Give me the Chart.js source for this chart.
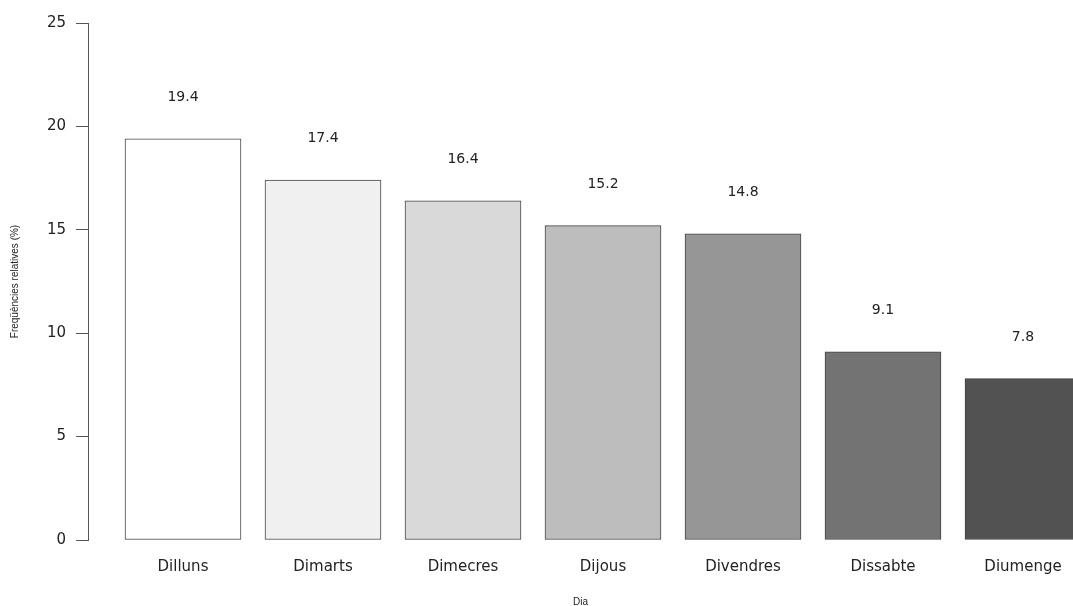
<!DOCTYPE html>
<html>
<head>
<meta charset="utf-8">
<script src="https://cdn.jsdelivr.net/npm/chart.js@4/dist/chart.umd.min.js"></script>
<style>
html,body{margin:0;padding:0;background:#fff;overflow:hidden;}
#wrap{width:1073px;height:606px;}
</style>
</head>
<body>
<div id="wrap"><canvas id="c" width="1073" height="606"></canvas></div>
<script>
const days = ["Dilluns","Dimarts","Dimecres","Dijous","Divendres","Dissabte","Diumenge"];
const values = [19.4, 17.4, 16.4, 15.2, 14.8, 9.1, 7.8];
const barColors = ["#ffffff","#f0f0f0","#d9d9d9","#bdbdbd","#969696","#737373","#525252"];
const yTicks = [0, 5, 10, 15, 20, 25];
const labelOffset = 2;

const FONT = "'DejaVu Sans', Verdana, sans-serif";
const TFONT = "'Liberation Sans', Arial, Helvetica, sans-serif";
const TEXT = "#222";
const AXIS = "#555";

const valueLabels = {
  id: 'valueLabels',
  afterDatasetsDraw(chart) {
    const ctx = chart.ctx, xs = chart.scales.x, ys = chart.scales.y;
    ctx.save();
    ctx.font = "14px " + FONT;
    ctx.fillStyle = TEXT;
    ctx.textAlign = 'center';
    ctx.textBaseline = 'middle';
    values.forEach((v, i) => {
      ctx.fillText(v.toFixed(1), xs.getPixelForValue(i), ys.getPixelForValue(v + labelOffset));
    });
    ctx.restore();
  }
};

new Chart(document.getElementById('c'), {
  type: 'bar',
  data: {
    datasets: [{
      data: values.map((v, i) => ({x: i, y: v})),
      backgroundColor: barColors,
      borderColor: "#444",
      borderWidth: 1,
      borderSkipped: false,
      barThickness: 116
    }]
  },
  options: {
    responsive: false,
    animation: false,
    layout: {padding: {top: 23, right: 0, left: 0, bottom: 0}},
    plugins: {legend: {display: false}, tooltip: {enabled: false}},
    scales: {
      x: {
        type: 'linear',
        offset: false,
        min: -95/140,
        max: -95/140 + 985/140,
        afterBuildTicks(s) { s.ticks = days.map((d, i) => ({value: i})); },
        afterFit(s) { s.height = 66; s.paddingLeft = 0; s.paddingRight = 0; },
        grid: {display: false, drawTicks: false, offset: false},
        border: {display: false},
        ticks: {
          autoSkip: false, maxRotation: 0, minRotation: 0,
          padding: 18,
          color: TEXT,
          font: {family: FONT, size: 15},
          callback: (v) => days[v]
        },
        title: {
          display: true, text: "Dia", color: TEXT,
          font: {family: TFONT, size: 10, lineHeight: 0.8},
          padding: {top: 0, bottom: 0}
        }
      },
      y: {
        min: 0, max: 25,
        afterBuildTicks(s) { s.ticks = yTicks.map(v => ({value: v})); },
        afterFit(s) { s.width = 88; },
        border: {display: true, color: AXIS, width: 1},
        grid: {display: true, drawOnChartArea: false, drawTicks: true, tickLength: 12, color: AXIS},
        ticks: {padding: 10, color: TEXT, font: {family: FONT, size: 15}},
        title: {
          display: true, text: "Freqüències relatives (%)", color: TEXT,
          font: {family: TFONT, size: 10, lineHeight: 1.2},
          padding: {top: 9, bottom: 0}
        }
      }
    }
  },
  plugins: [valueLabels]
});
</script>
</body>
</html>
